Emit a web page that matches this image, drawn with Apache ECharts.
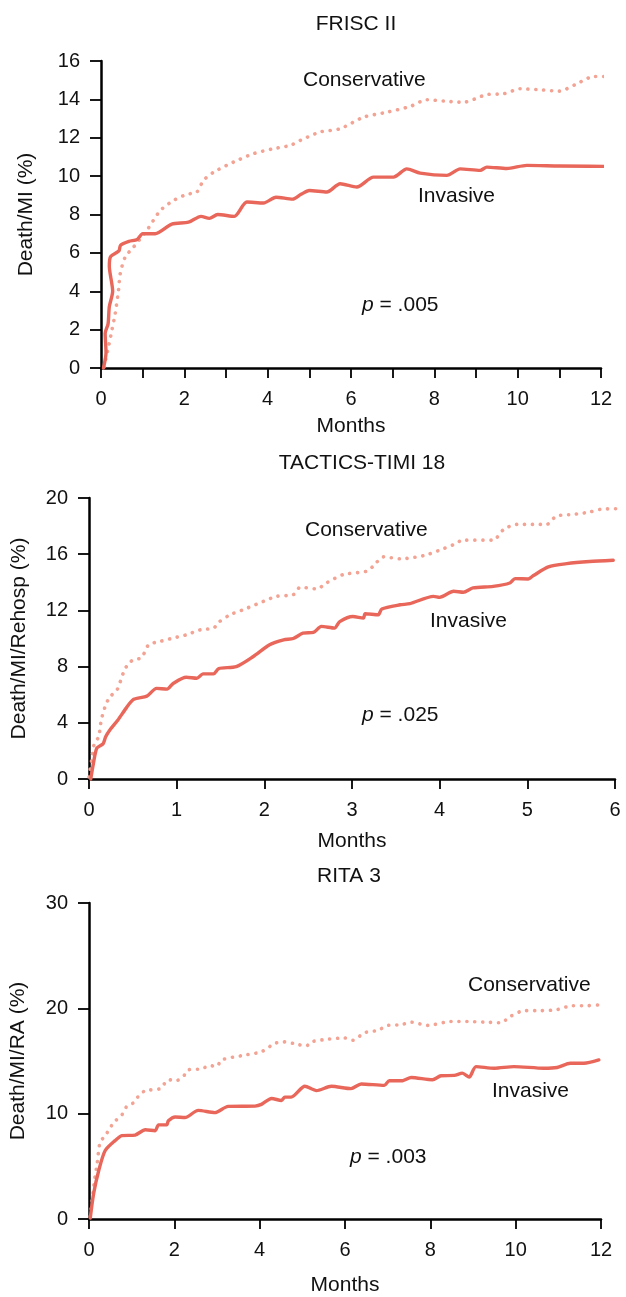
<!DOCTYPE html>
<html>
<head>
<meta charset="utf-8">
<script src="https://cdn.jsdelivr.net/npm/echarts@6/dist/echarts.min.js"></script>
<style>
html,body{margin:0;padding:0;background:#fff;}
#c{width:626px;height:1297px;}
</style>
</head>
<body>
<div id="c"></div>
<script>
// ---------- DATA ----------
const titles = ['FRISC II', 'TACTICS-TIMI 18', 'RITA 3'];
const yNames = ['Death/MI (%)', 'Death/MI/Rehosp (%)', 'Death/MI/RA (%)'];
const xName = 'Months';
const pValues = ['.005', '.025', '.003'];

// tick values
const friscXTicks = [0, 2, 4, 6, 8, 10, 12];
const friscYTicks = [0, 2, 4, 6, 8, 10, 12, 14, 16];
const tacticsXTicks = [0, 1, 2, 3, 4, 5, 6];
const tacticsYTicks = [0, 4, 8, 12, 16, 20];
const ritaXTicks = [0, 2, 4, 6, 8, 10, 12];
const ritaYTicks = [0, 10, 20, 30];

// FRISC II  [month, %]
const friscInvasive = [
  [0.06,0],[0.12,0.8],[0.1,1.8],[0.17,2.3],[0.2,3.2],[0.28,4.0],[0.2,5.3],[0.23,5.8],
  [0.43,6.1],[0.47,6.4],[0.67,6.6],[0.87,6.7],[1.0,7.0],[1.3,7.0],[1.7,7.5],[2.1,7.6],
  [2.4,7.9],[2.6,7.8],[2.8,8.0],[3.2,7.9],[3.5,8.65],[3.9,8.6],[4.2,8.9],[4.6,8.8],
  [4.8,9.05],[5.0,9.25],[5.42,9.17],[5.74,9.6],[6.14,9.43],[6.54,9.95],[7.02,9.95],
  [7.34,10.38],[7.66,10.16],[8.3,10.04],[8.62,10.38],[9.1,10.3],[9.26,10.47],[9.74,10.4],
  [10.22,10.56],[11.0,10.53],[12.53,10.5]
];
const friscConservative = [
  [0.07,0.05],[0.18,1.1],[0.26,1.96],[0.34,2.83],[0.42,4.05],[0.46,4.9],[0.58,5.78],
  [0.78,6.3],[1.1,7.17],[1.42,8.2],[1.74,8.73],[2.06,9.05],[2.3,9.17],[2.46,9.78],
  [2.7,10.2],[3.18,10.73],[3.66,11.17],[4.14,11.43],[4.54,11.6],[4.78,11.86],[5.26,12.3],
  [5.74,12.47],[6.3,13.07],[6.86,13.33],[7.42,13.63],[7.82,13.98],[8.3,13.9],[8.7,13.85],
  [9.26,14.25],[9.66,14.29],[10.06,14.55],[10.54,14.5],[11.0,14.43],[11.42,14.81],
  [11.82,15.19],[12.3,15.19],[12.58,15.12]
];

// TACTICS-TIMI 18
const tacticsInvasive = [
  [0.02,0],[0.05,1.1],[0.09,2.2],[0.16,2.5],[0.19,3.0],[0.24,3.5],[0.33,4.2],[0.43,5.1],
  [0.51,5.67],[0.66,5.9],[0.77,6.45],[0.89,6.4],[0.96,6.8],[1.11,7.24],[1.23,7.17],
  [1.3,7.48],[1.42,7.48],[1.48,7.86],[1.68,8.0],[1.87,8.7],[2.06,9.55],[2.22,9.9],
  [2.33,10.0],[2.44,10.38],[2.56,10.43],[2.65,10.86],[2.8,10.74],[2.86,11.2],[3.01,11.57],
  [3.13,11.45],[3.15,11.76],[3.3,11.69],[3.34,12.1],[3.55,12.4],[3.66,12.48],[3.93,13.0],
  [4.0,12.93],[4.16,13.36],[4.27,13.29],[4.38,13.6],[4.61,13.71],[4.8,13.95],[4.86,14.26],
  [5.01,14.24],[5.07,14.48],[5.24,15.1],[5.45,15.33],[5.71,15.48],[5.98,15.57]
];
const tacticsConservative = [
  [0.0,0.14],[0.03,1.34],[0.06,2.5],[0.11,3.0],[0.14,4.2],[0.19,5.26],[0.24,5.86],
  [0.32,6.34],[0.39,7.53],[0.45,8.24],[0.51,8.48],[0.6,8.64],[0.68,9.55],[0.81,9.79],
  [0.96,10.03],[1.11,10.26],[1.27,10.62],[1.42,10.74],[1.49,11.21],[1.61,11.69],
  [1.76,12.05],[1.99,12.64],[2.14,13.0],[2.33,13.12],[2.41,13.65],[2.6,13.53],[2.71,13.96],
  [2.9,14.55],[3.17,14.79],[3.24,15.14],[3.36,15.81],[3.55,15.67],[3.82,15.9],[4.0,16.29],
  [4.16,16.69],[4.27,17.0],[4.61,17.0],[4.73,17.76],[4.88,18.12],[5.22,18.12],[5.33,18.71],
  [5.52,18.83],[5.71,19.0],[5.83,19.19],[6.02,19.24]
];

// RITA 3
const ritaInvasive = [
  [0.03,0.1],[0.11,2.44],[0.23,4.63],[0.38,6.5],[0.61,7.44],[0.77,7.91],[1.08,7.97],
  [1.32,8.47],[1.55,8.38],[1.63,8.94],[1.82,8.94],[1.86,9.32],[2.02,9.69],[2.25,9.63],
  [2.56,10.31],[2.95,10.1],[3.26,10.69],[3.89,10.72],[4.04,10.88],[4.28,11.44],[4.51,11.25],
  [4.59,11.57],[4.74,11.57],[5.06,12.6],[5.33,12.19],[5.68,12.6],[6.14,12.38],[6.38,12.82],
  [6.92,12.69],[7.04,13.13],[7.35,13.13],[7.55,13.44],[8.05,13.22],[8.25,13.6],[8.56,13.63],
  [8.75,13.85],[8.91,13.47],[9.07,14.47],[9.5,14.31],[9.96,14.47],[10.66,14.31],
  [10.97,14.38],[11.28,14.78],[11.6,14.78],[11.95,15.1]
];
const ritaConservative = [
  [0.03,0.25],[0.13,3.69],[0.19,5.25],[0.26,7.28],[0.38,7.91],[0.58,9.16],[0.77,9.88],
  [0.89,10.72],[1.04,11.03],[1.16,11.66],[1.32,12.19],[1.67,12.38],[1.86,13.22],
  [2.06,13.16],[2.21,13.53],[2.33,14.16],[2.64,14.25],[2.83,14.57],[2.99,14.47],[3.11,15.1],
  [3.65,15.56],[4.04,15.88],[4.35,16.66],[4.55,16.82],[4.9,16.57],[5.09,16.41],[5.21,16.82],
  [5.6,17.07],[5.99,17.19],[6.18,16.97],[6.46,17.69],[6.77,17.91],[7.0,18.38],[7.31,18.44],
  [7.55,18.69],[7.94,18.38],[8.48,18.75],[8.87,18.75],[9.26,18.69],[9.65,18.63],
  [9.88,19.25],[10.2,19.78],[10.58,19.78],[10.97,19.88],[11.32,20.25],[11.67,20.25],
  [11.93,20.32]
];

// ---------- CHART ----------
const FONT = '"Liberation Sans", Arial, Helvetica, sans-serif';
const TXT = '#111';
const INV = '#e8675a';
const CON = '#f3a393';
const FS = 21;   // annotation / title / axis-name size
const TFS = 20;  // tick label size

const panels = [
  {grid:{left:101, top:61, width:500, height:307}, xMax:12, xInt:1, xTicks:friscXTicks,
   yMax:16, yInt:2, yTicks:friscYTicks, inv:friscInvasive, con:friscConservative,
   yGap:64, xGap:48, title:[351,9],
   ann:{con:[303,82], inv:[418,198], p:[362,307]}},
  {grid:{left:89, top:498, width:526, height:281}, xMax:6, xInt:1, xTicks:tacticsXTicks,
   yMax:20, yInt:4, yTicks:tacticsYTicks, inv:tacticsInvasive, con:tacticsConservative,
   yGap:59, xGap:52, title:[357,448],
   ann:{con:[305,532], inv:[430,623], p:[362,717]}},
  {grid:{left:87, top:903, width:514, height:320}, xMax:12, xInt:2, xTicks:ritaXTicks,
   yMax:30, yInt:10, yTicks:ritaYTicks, inv:ritaInvasive, con:ritaConservative,
   yGap:60, xGap:56, title:[344,861],
   ann:{con:[468,987], inv:[492,1093], p:[350,1159]}}
];

const option = {
  animation:false,
  backgroundColor:'#fff',
  title:[], grid:[], xAxis:[], yAxis:[], series:[], graphic:[]
};

panels.forEach((p, i) => {
  option.title.push({
    text: titles[i], left: p.title[0], top: p.title[1], textAlign:'center',
    textStyle:{fontFamily:FONT, fontSize:FS, fontWeight:'normal', color:TXT}
  });
  option.grid.push(Object.assign({containLabel:false}, p.grid));
  option.xAxis.push({
    type:'value', gridIndex:i, min:0, max:p.xMax, interval:p.xInt,
    name:xName, nameLocation:'middle', nameGap:p.xGap,
    nameTextStyle:{fontFamily:FONT, fontSize:FS, color:TXT},
    axisLine:{show:true, lineStyle:{color:'#000', width:2.5}},
    axisTick:{show:true, length:10, lineStyle:{color:'#000', width:1.8}},
    axisLabel:{margin:21, fontFamily:FONT, fontSize:TFS, color:TXT,
      formatter: v => p.xTicks.includes(v) ? String(v) : ''},
    splitLine:{show:false}
  });
  option.yAxis.push({
    type:'value', gridIndex:i, min:0, max:p.yMax, interval:p.yInt,
    name:yNames[i], nameLocation:'middle', nameGap:p.yGap,
    nameTextStyle:{fontFamily:FONT, fontSize:FS, color:TXT},
    axisLine:{show:true, lineStyle:{color:'#000', width:2.5}},
    axisTick:{show:true, length:11, lineStyle:{color:'#000', width:1.8}},
    axisLabel:{margin:21, fontFamily:FONT, fontSize:TFS, color:TXT,
      formatter: v => p.yTicks.includes(v) ? String(v) : ''},
    splitLine:{show:false}
  });
  option.series.push({
    type:'line', xAxisIndex:i, yAxisIndex:i, data:p.con, showSymbol:false, symbol:'none',
    smooth:0.25, clip:false, z:2,
    lineStyle:{color:CON, width:3.6, type:[0.1, 7.8], cap:'round'}
  });
  option.series.push({
    type:'line', xAxisIndex:i, yAxisIndex:i, data:p.inv, showSymbol:false, symbol:'none',
    smooth:0.25, clip:false, z:3,
    lineStyle:{color:INV, width:3.4, cap:'round', join:'round'}
  });
  const ts = {fontFamily:FONT, fontSize:FS, fill:TXT};
  option.graphic.push({type:'text', left:p.ann.con[0], top:p.ann.con[1]-12,
    style:Object.assign({text:'Conservative'}, ts)});
  option.graphic.push({type:'text', left:p.ann.inv[0], top:p.ann.inv[1]-12,
    style:Object.assign({text:'Invasive'}, ts)});
  option.graphic.push({type:'text', left:p.ann.p[0], top:p.ann.p[1]-12,
    style:{text:'{i|p} = ' + pValues[i], fontFamily:FONT, fontSize:FS, fill:TXT,
      rich:{i:{fontStyle:'italic', fontFamily:FONT, fontSize:FS, fill:TXT}}}});
});

const chart = echarts.init(document.getElementById('c'), null, {renderer:'canvas'});
chart.setOption(option);
</script>
</body>
</html>
